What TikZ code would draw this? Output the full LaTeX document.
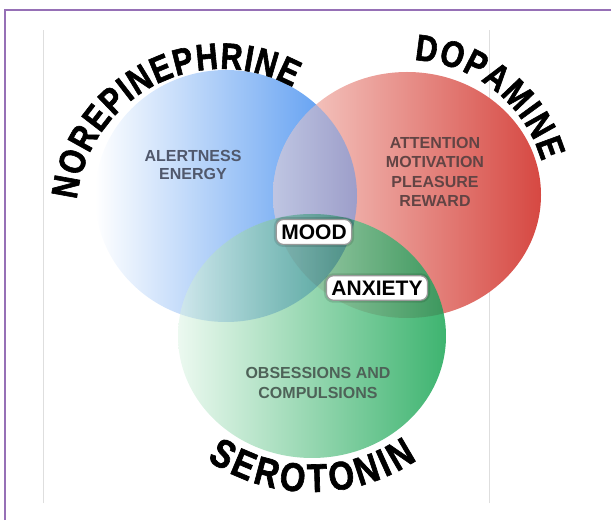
\documentclass[tikz,border=0pt]{standalone}
\usepackage{fontspec}
\usetikzlibrary{decorations.text}
\newfontfamily\namefont[FakeStretch=0.82,FakeBold=1.6]{Liberation Sans Bold}
\newfontfamily\labelfont{Liberation Sans}
\definecolor{framepurple}{RGB}{150,112,182}
\definecolor{edgegray}{RGB}{222,222,222}
\definecolor{noreblue}{RGB}{78,148,240}
\definecolor{dopapink}{RGB}{248,214,208}
\definecolor{dopared}{RGB}{214,72,66}
\definecolor{seramint}{RGB}{236,249,240}
\definecolor{seragreen}{RGB}{62,180,112}
\definecolor{bluetext}{RGB}{80,88,108}
\definecolor{redtext}{RGB}{98,68,68}
\definecolor{greentext}{RGB}{78,98,88}
\newcommand\titlefont{\namefont\fontsize{37}{42}\selectfont}
\newcommand\serafont{\namefont\fontsize{40}{46}\selectfont}

\begin{document}
\begin{tikzpicture}[x=1pt, y=1pt,
  noreshade/.style={left color=white, right color=noreblue},
  dopashade/.style={left color=dopapink, right color=dopared},
  serashade/.style={left color=seramint, right color=seragreen},
  effect/.style={font=\labelfont\bfseries\fontsize{16}{18}\selectfont, align=center},
  glowbox/.style={fill=white, rounded corners=7pt, draw=black!40, line width=1.2pt,
    inner xsep=5pt, inner ysep=5pt,
    preaction={draw=black, draw opacity=.12, line width=5pt},
    font=\labelfont\bfseries\fontsize{21}{24}\selectfont},
  namearc/.style={decorate, decoration={text along path, text align=fit to path,
    text={|\titlefont|#1}}}
]
  \useasboundingbox (0,0) rectangle (611,520);

  % frame
  \draw[framepurple, line width=2.5] (5,0) -- (5,510) -- (611,510);
  \draw[edgegray, line width=1] (43,17) -- (43,490);
  \draw[edgegray, line width=1] (489,17) -- (489,490);

  % circle centres
  \coordinate (nore) at (226,324);
  \coordinate (dopa) at (407,325);
  \coordinate (sera) at (312,184);

  % norepinephrine and dopamine
  \shade[noreshade] (nore) ellipse [x radius=131, y radius=126];
  \shade[dopashade] (dopa) ellipse [x radius=134, y radius=123];
  \begin{scope}
    \clip (dopa) ellipse [x radius=134, y radius=123];
    \shade[noreshade, opacity=.5] (nore) ellipse [x radius=131, y radius=126];
  \end{scope}

  % serotonin on top
  \shade[serashade] (sera) ellipse [x radius=134, y radius=122];
  \begin{scope}
    \clip (sera) ellipse [x radius=134, y radius=122];
    \shade[noreshade, opacity=.5, blend mode=multiply] (nore) ellipse [x radius=131, y radius=126];
    \shade[dopashade, opacity=.3, blend mode=multiply] (dopa) ellipse [x radius=134, y radius=123];
  \end{scope}

  % curved names
  \path[namearc=NOREPINEPHRINE] ([shift={(174:146)}]222,305) arc[start angle=174, end angle=61, radius=146];
  \path[namearc=DOPAMINE] ([shift={(87:140)}]407,320) arc[start angle=87, end angle=16, radius=140];
  \path[decorate, decoration={text along path, text align=fit to path, text={|\serafont|SEROTONIN}}]
    ([shift={(236:188)}]312,216) arc[start angle=236, end angle=304, radius=188];

  % effects
  \node[effect, text=bluetext] (alert) at (193,355) {ALERTNESS\\ENERGY};
  \node[effect, text=redtext, font=\labelfont\bfseries\fontsize{16}{19.5}\selectfont] (reward) at (435,348)
    {ATTENTION\\MOTIVATION\\PLEASURE\\REWARD};
  \node[effect, text=greentext, font=\labelfont\bfseries\fontsize{16}{20}\selectfont] (obsess) at (318,137)
    {OBSESSIONS AND\\COMPULSIONS};

  \node[glowbox] (mood) at (314,288) {MOOD};
  \node[glowbox] (anxiety) at (377,232) {ANXIETY};
\end{tikzpicture}
\end{document}
